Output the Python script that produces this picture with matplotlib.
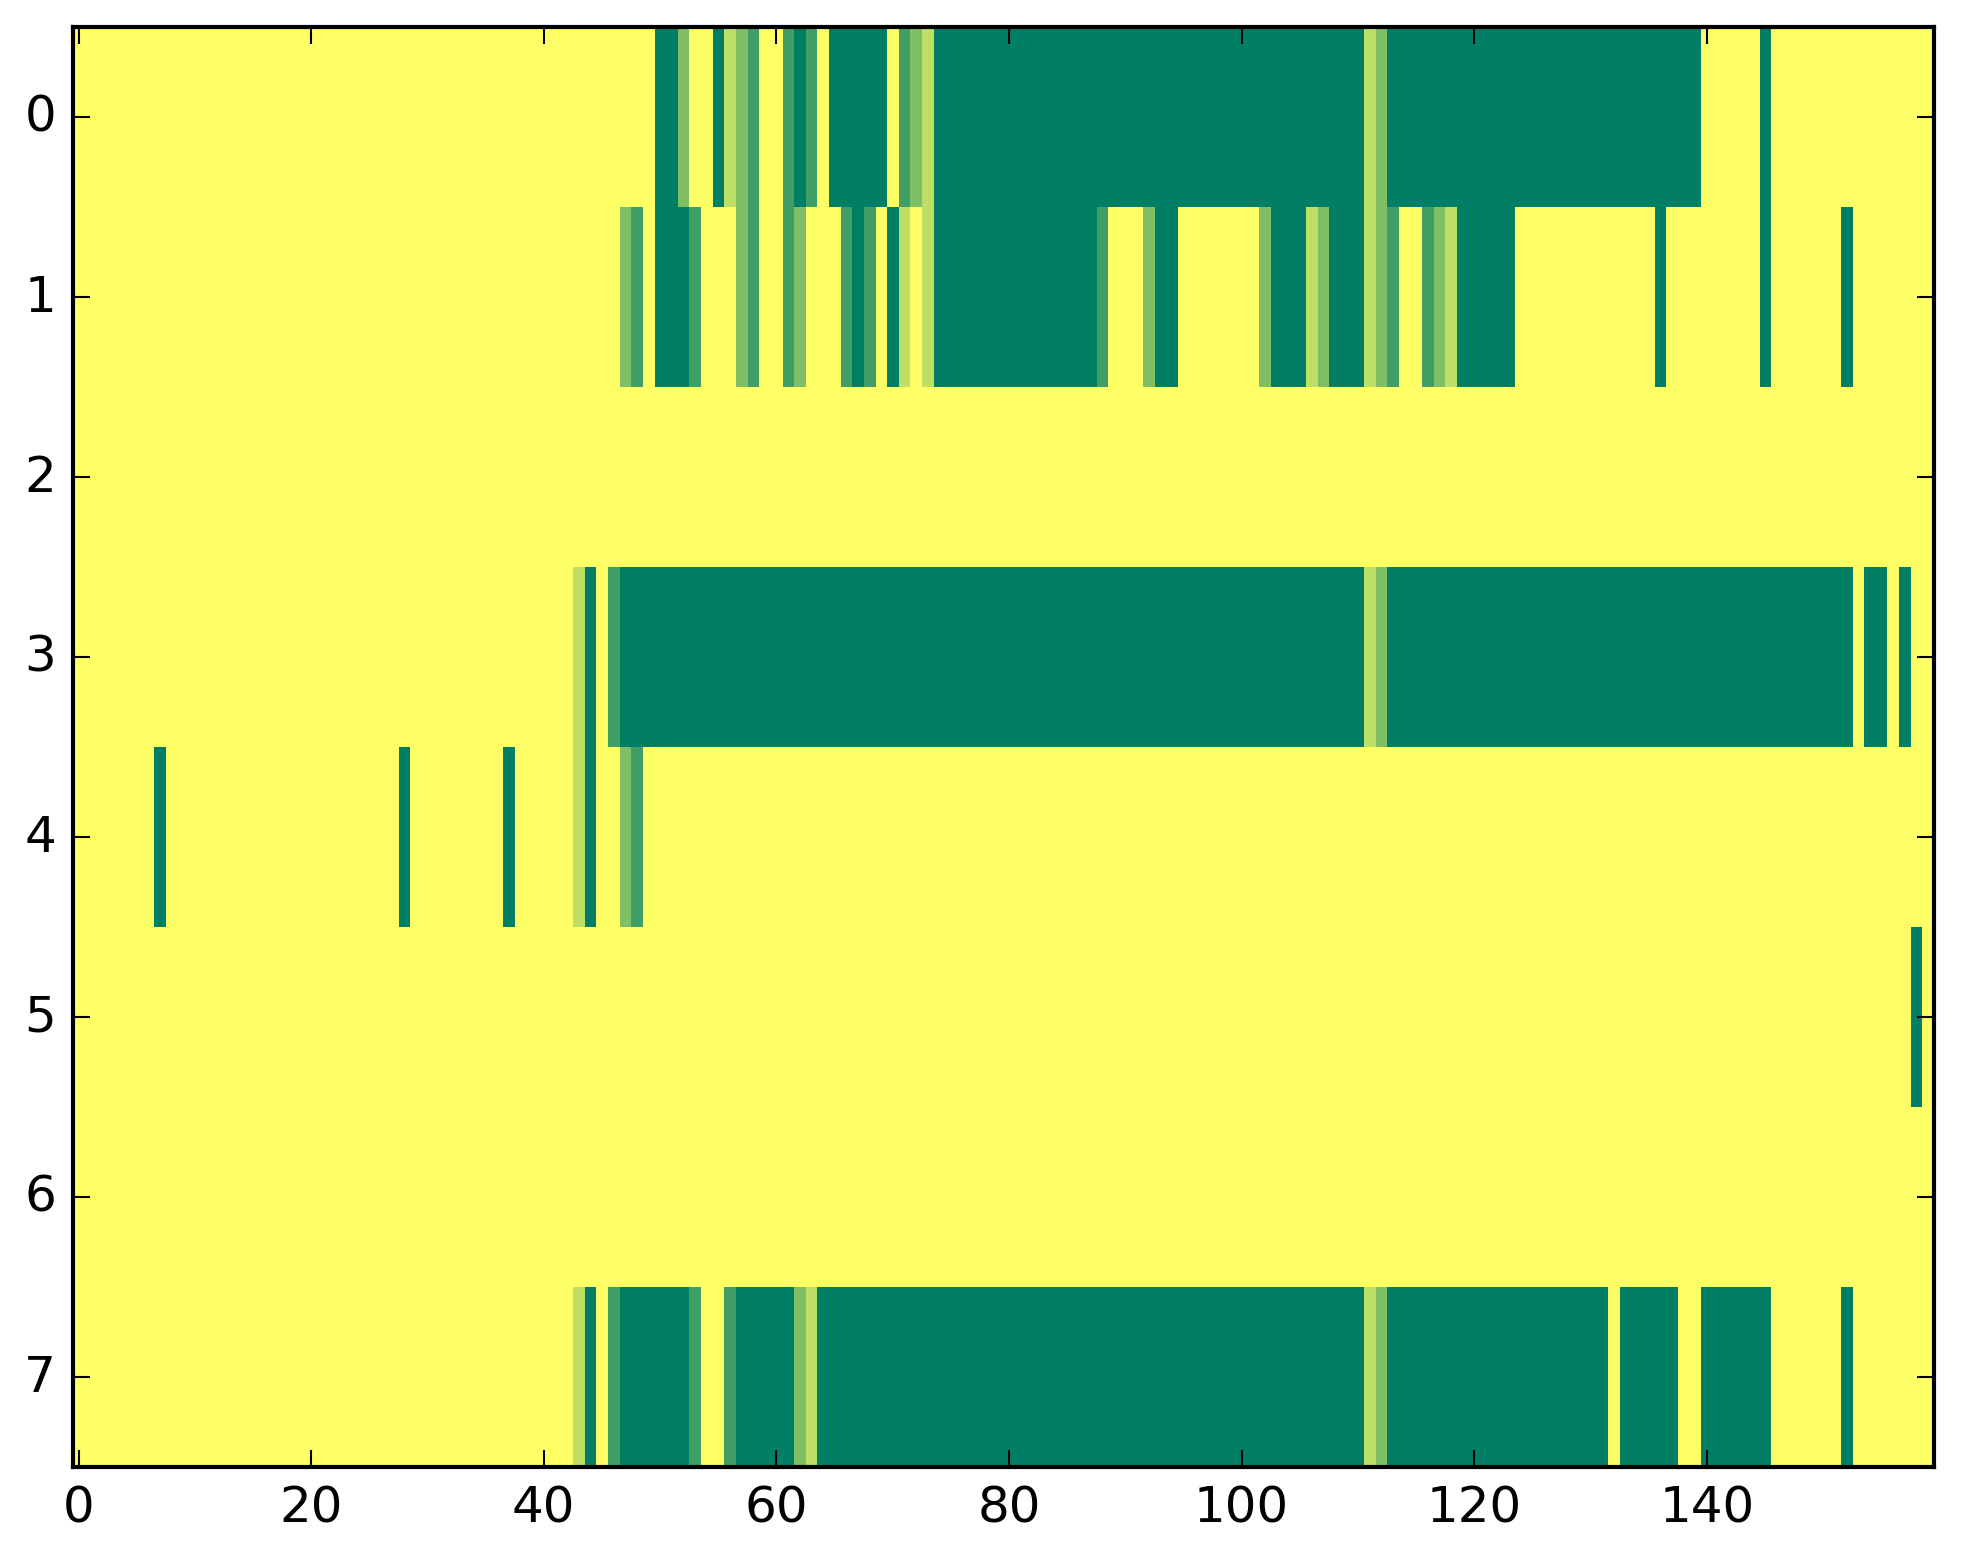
import numpy as np
import matplotlib
matplotlib.use("Agg")
import matplotlib.pyplot as plt

plt.style.use('classic')

n_rows = 8
n_cols = 160

# non-yellow segments per row: (first column, last column, value)
# value 1.0 is the yellow background, 0.0 the dark green
row0 = [(50, 51, 0), (52, 52, 0.5), (55, 55, 0), (56, 56, 0.75), (57, 57, 0.5),
        (58, 58, 0.25), (61, 61, 0.25), (62, 62, 0), (63, 63, 0.25), (65, 69, 0),
        (71, 71, 0.25), (72, 72, 0.5), (73, 73, 0.75), (74, 110, 0),
        (111, 111, 0.75), (112, 112, 0.5), (113, 139, 0), (145, 145, 0)]
row1 = [(47, 47, 0.5), (48, 48, 0.25), (50, 52, 0), (53, 53, 0.25), (57, 57, 0.5),
        (58, 58, 0.25), (61, 61, 0.25), (62, 62, 0.5), (66, 66, 0.25), (67, 67, 0),
        (68, 68, 0.25), (70, 70, 0), (71, 71, 0.75), (73, 73, 0.75), (74, 87, 0),
        (88, 88, 0.25), (92, 92, 0.5), (93, 94, 0), (102, 102, 0.5), (103, 105, 0),
        (106, 106, 0.75), (107, 107, 0.5), (108, 110, 0), (111, 111, 0.75),
        (112, 112, 0.5), (113, 113, 0.25), (116, 116, 0.25), (117, 117, 0.5),
        (118, 118, 0.75), (119, 123, 0), (136, 136, 0), (145, 145, 0), (152, 152, 0)]
row2 = []
row3 = [(43, 43, 0.75), (44, 44, 0), (46, 46, 0.25), (47, 110, 0), (111, 111, 0.75),
        (112, 112, 0.5), (113, 152, 0), (154, 155, 0), (157, 157, 0)]
row4 = [(7, 7, 0), (28, 28, 0), (37, 37, 0), (43, 43, 0.75), (44, 44, 0),
        (47, 47, 0.5), (48, 48, 0.25)]
row5 = [(158, 158, 0)]
row6 = []
row7 = [(43, 43, 0.75), (44, 44, 0), (46, 46, 0.25), (47, 52, 0), (53, 53, 0.25),
        (56, 56, 0.25), (57, 61, 0), (62, 62, 0.5), (63, 63, 0.75), (64, 110, 0),
        (111, 111, 0.75), (112, 112, 0.5), (113, 131, 0), (133, 137, 0),
        (140, 145, 0), (152, 152, 0)]

rows = [row0, row1, row2, row3, row4, row5, row6, row7]

grid = np.ones((n_rows, n_cols))
for r, segs in enumerate(rows):
    for a, b, v in segs:
        grid[r, a:b + 1] = v

fig = plt.figure(figsize=(1963 / 300, 1564 / 300), dpi=300, facecolor='white')
ax = fig.add_axes([72.7 / 1963, 96 / 1564, (1933.5 - 72.7) / 1963, 1440 / 1564])
ax.imshow(grid, cmap='summer', vmin=0, vmax=1, aspect='auto',
          interpolation='nearest')
ax.set_xticks(np.arange(0, 160, 20))
ax.set_yticks(np.arange(0, 8, 1))
ax.set_xlim(-0.5, n_cols - 0.5)
ax.set_ylim(n_rows - 0.5, -0.5)

fig.savefig('out.png', dpi=300, facecolor='white')
